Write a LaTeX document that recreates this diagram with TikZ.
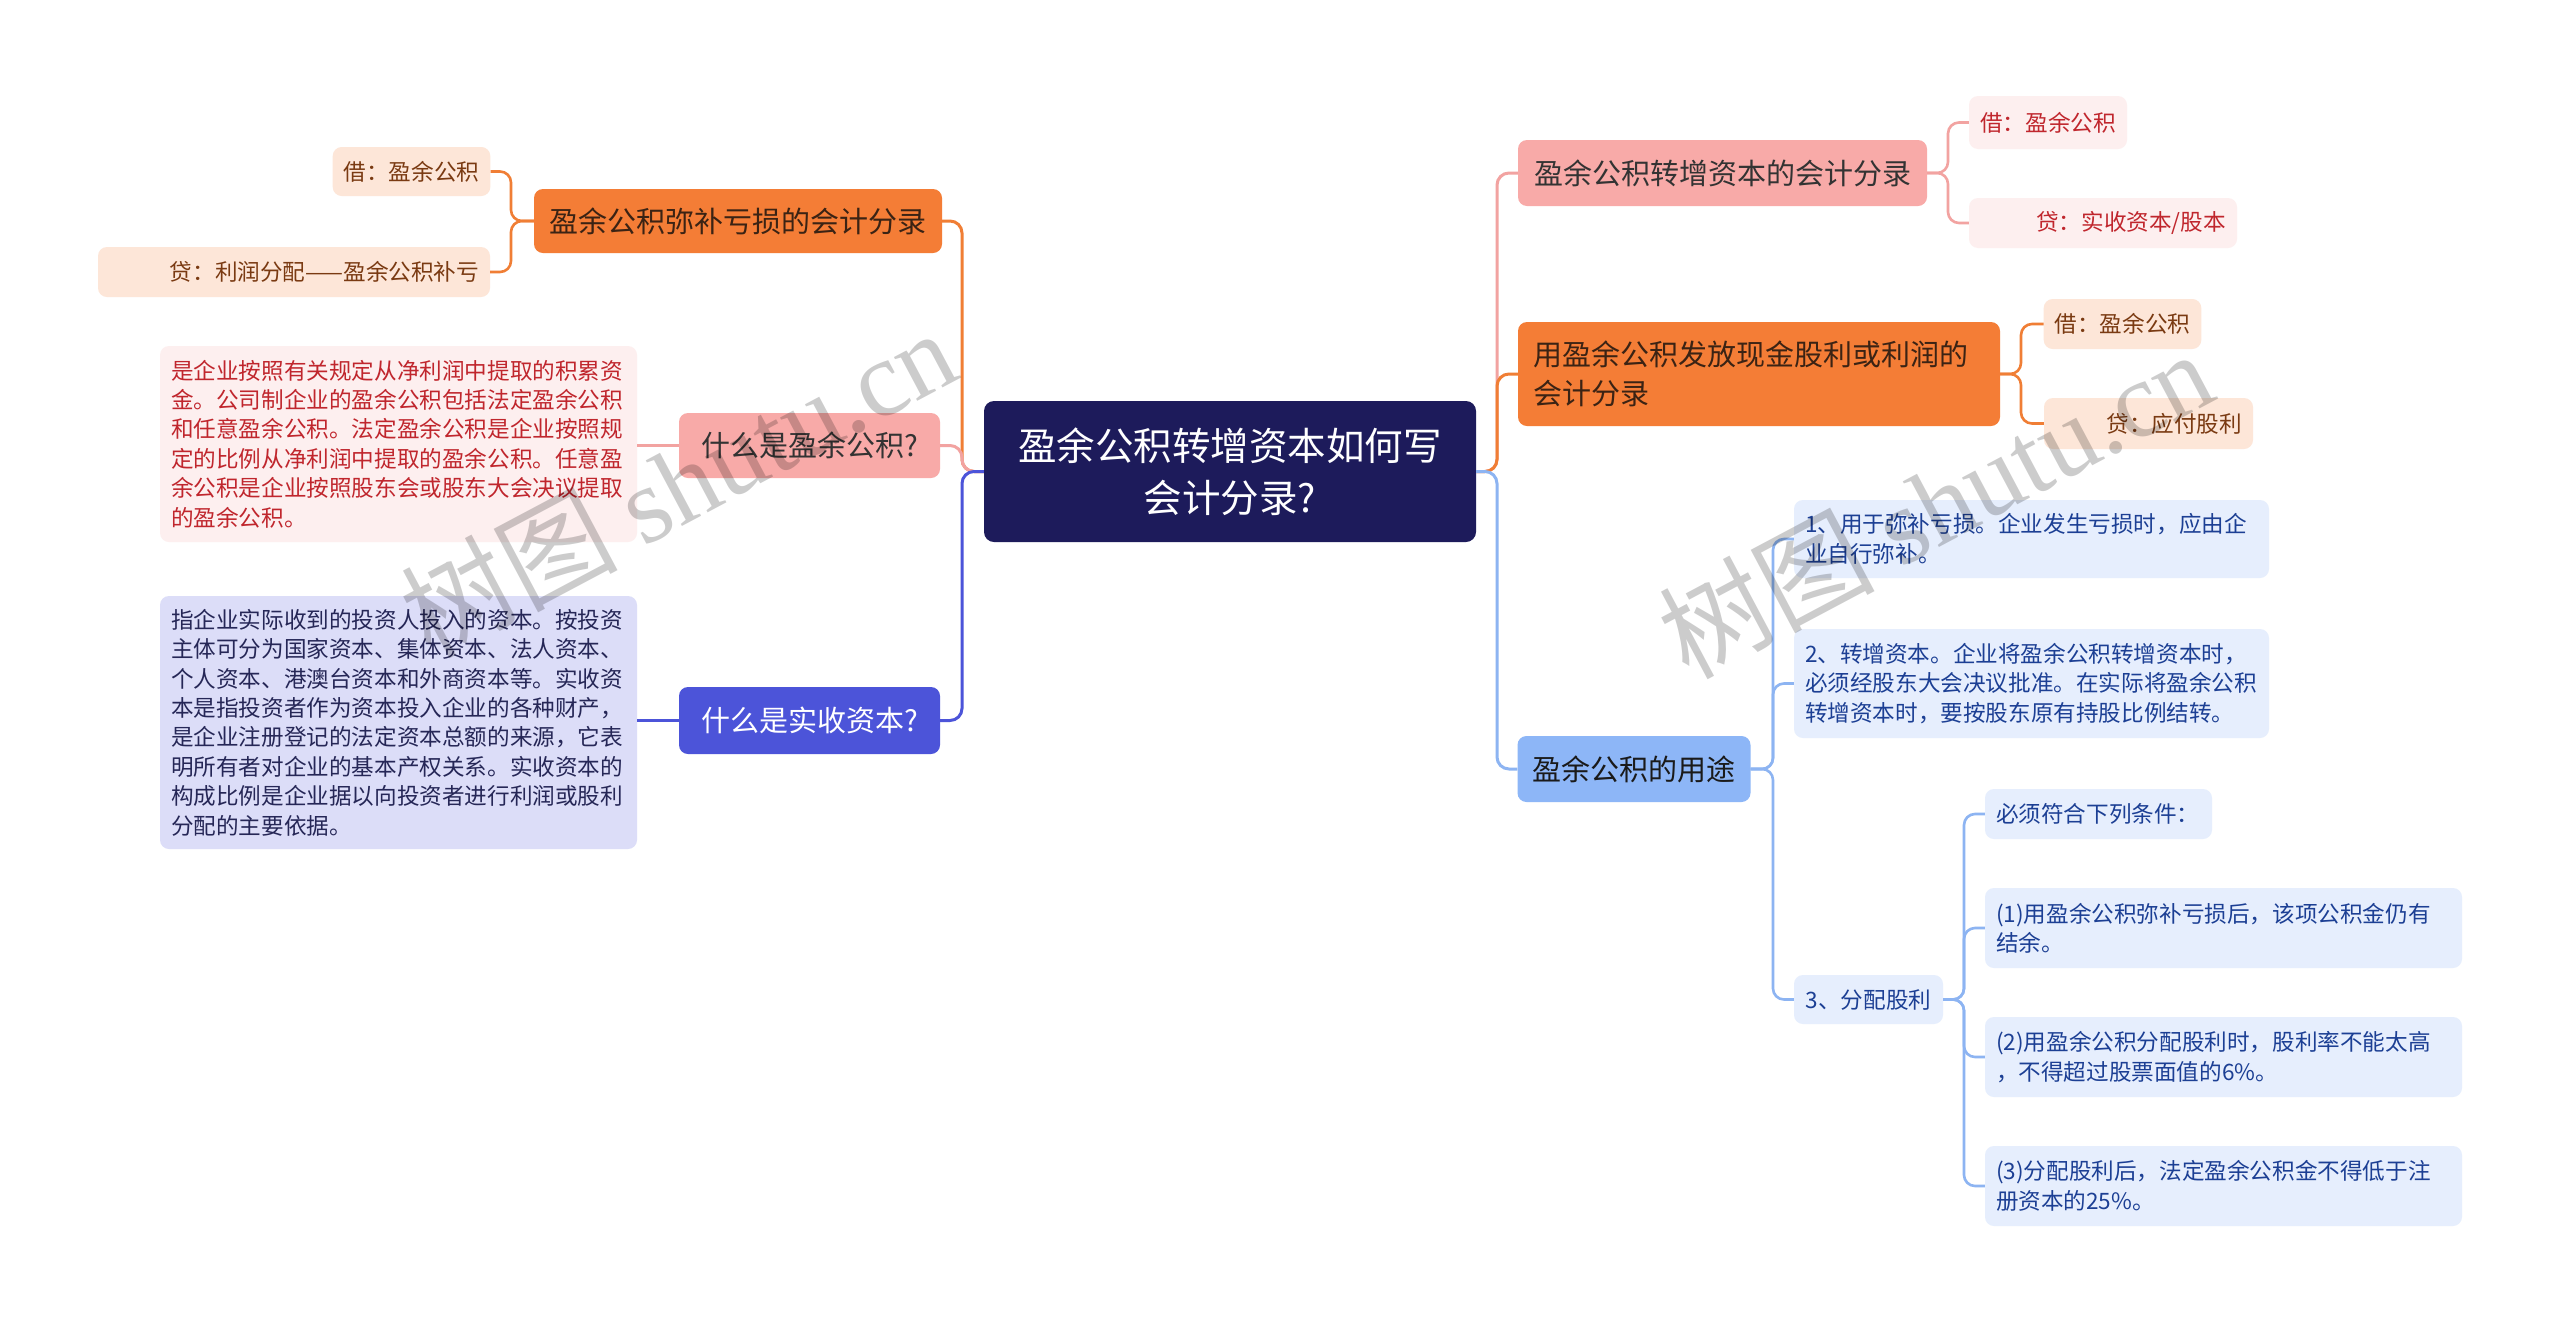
\documentclass[tikz,border=0pt]{standalone}
\usepackage{fontspec}
\setmainfont{Noto Sans CJK SC}
\newfontfamily\wmfont{Liberation Serif}
\usetikzlibrary{calc}
\definecolor{navy}{HTML}{1D1B5B}
\definecolor{orangeF}{HTML}{F47D36}
\definecolor{orangeT}{HTML}{3B2314}
\definecolor{peachF}{HTML}{FDE6D8}
\definecolor{peachT}{HTML}{7A3A12}
\definecolor{pinkF}{HTML}{F8AAA8}
\definecolor{pinkT}{HTML}{333333}
\definecolor{lpinkF}{HTML}{FDEFEF}
\definecolor{lpinkT}{HTML}{C0262D}
\definecolor{blueF}{HTML}{4C54D9}
\definecolor{lavF}{HTML}{DCDDF8}
\definecolor{lavT}{HTML}{262757}
\definecolor{skyF}{HTML}{8DB6F7}
\definecolor{skyT}{HTML}{1A1A1A}
\definecolor{lskyF}{HTML}{E6EEFD}
\definecolor{lskyT}{HTML}{1C3F94}
\definecolor{cOrange}{HTML}{F07E35}
\definecolor{cPink}{HTML}{F2A3A1}
\definecolor{cBlue}{HTML}{4C54D9}
\definecolor{cSky}{HTML}{8DB4F2}
\newcommand\fsS{\fontsize{22.6}{29.4}\selectfont}
\newcommand\fsM{\fontsize{29}{39}\selectfont}
\newcommand\fsL{\fontsize{38.5}{52}\selectfont}
\begin{document}
\begin{tikzpicture}[x=1pt,y=-1pt,
  box/.style={rectangle, rounded corners=9pt, inner xsep=11pt, inner ysep=0pt, anchor=center},
  lvA/.style={box, inner xsep=15pt, font=\fsM},
  leaf/.style={box, font=\fsS},
  conn/.style={line width=3pt, rounded corners=12pt},
  subconn/.style={line width=2.6pt, rounded corners=11pt},
  wm/.style={text=black, text opacity=0.2, font=\fontsize{108}{108}\selectfont, rotate=28, inner sep=0pt}
]
\useasboundingbox (0,0) rectangle (2560,1326);
\fill[white] (0,0) rectangle (2560,1326);

% trunk coordinates
\coordinate (lt) at (962,471.5);
\coordinate (rt) at (1497,471.5);
\coordinate (l1t) at (511,221);
\coordinate (r1t) at (1948,173);
\coordinate (r2t) at (2021,374);
\coordinate (r3t) at (1773,769);
\coordinate (r3ct) at (1964,999.5);

% central
\node[box, fill=navy, text=white, rounded corners=10pt, minimum width=492pt, minimum height=141pt, font=\fsL, align=center] (C) at (1230,471.5) {盈余公积转增资本如何写\\会计分录?};

% left level 1
\node[lvA, fill=orangeF, text=orangeT, minimum width=408pt, minimum height=64pt] (L1) at (738,221) {盈余公积弥补亏损的会计分录};
\node[lvA, fill=pinkF, text=pinkT, minimum width=261pt, minimum height=65pt] (L2) at (809.5,445.5) {什么是盈余公积?};
\node[lvA, fill=blueF, text=white, minimum width=261pt, minimum height=67pt] (L3) at (809.5,720.5) {什么是实收资本?};

% left leaves
\node[leaf, fill=peachF, text=peachT, minimum width=157pt, minimum height=49pt] (L1a) at (411.5,171.5) {借：盈余公积};
\node[leaf, fill=peachF, text=peachT, minimum width=392pt, minimum height=50pt, text width=370pt, align=right] (L1b) at (294,272) {贷：利润分配——盈余公积补亏};
\node[leaf, fill=lpinkF, text=lpinkT, minimum width=477pt, minimum height=196pt, text width=455pt, align=left] (L2a) at (398.5,444) {是企业按照有关规定从净利润中提取的积累资\\金。公司制企业的盈余公积包括法定盈余公积\\和任意盈余公积。法定盈余公积是企业按照规\\定的比例从净利润中提取的盈余公积。任意盈\\余公积是企业按照股东会或股东大会决议提取\\的盈余公积。};
\node[leaf, fill=lavF, text=lavT, minimum width=477pt, minimum height=253pt, text width=455pt, align=left] (L3a) at (398.5,722.5) {指企业实际收到的投资人投入的资本。按投资\\主体可分为国家资本、集体资本、法人资本、\\个人资本、港澳台资本和外商资本等。实收资\\本是指投资者作为资本投入企业的各种财产，\\是企业注册登记的法定资本总额的来源，它表\\明所有者对企业的基本产权关系。实收资本的\\构成比例是企业据以向投资者进行利润或股利\\分配的主要依据。};

% right level 1
\node[lvA, fill=pinkF, text=pinkT, minimum width=409pt, minimum height=66pt] (R1) at (1722.5,173) {盈余公积转增资本的会计分录};
\node[lvA, fill=orangeF, text=orangeT, minimum width=482pt, minimum height=104pt, text width=452pt, align=left] (R2) at (1759,374) {用盈余公积发放现金股利或利润的\\会计分录};
\node[lvA, fill=skyF, text=skyT, minimum width=232pt, minimum height=66pt] (R3) at (1634,769) {盈余公积的用途};

% right leaves
\node[leaf, fill=lpinkF, text=lpinkT, minimum width=158pt, minimum height=53pt] (R1a) at (2048,122.5) {借：盈余公积};
\node[leaf, fill=lpinkF, text=lpinkT, minimum width=268pt, minimum height=50pt, text width=246pt, align=right] (R1b) at (2103,223) {贷：实收资本/股本};
\node[leaf, fill=peachF, text=peachT, minimum width=157pt, minimum height=50pt] (R2a) at (2122.5,324) {借：盈余公积};
\node[leaf, fill=peachF, text=peachT, minimum width=209pt, minimum height=51pt, text width=187pt, align=right] (R2b) at (2148.5,423.5) {贷：应付股利};
\node[leaf, fill=lskyF, text=lskyT, minimum width=475pt, minimum height=78pt, text width=453pt, align=left] (R3a) at (2031.5,539) {1、用于弥补亏损。企业发生亏损时，应由企\\业自行弥补。};
\node[leaf, fill=lskyF, text=lskyT, minimum width=475pt, minimum height=109pt, text width=453pt, align=left] (R3b) at (2031.5,683.5) {2、转增资本。企业将盈余公积转增资本时，\\必须经股东大会决议批准。在实际将盈余公积\\转增资本时，要按股东原有持股比例结转。};
\node[leaf, fill=lskyF, text=lskyT, minimum width=149pt, minimum height=49pt] (R3c) at (1868.5,999.5) {3、分配股利};
\node[leaf, fill=lskyF, text=lskyT, minimum width=227pt, minimum height=50pt, text width=205pt, align=left] (R3c1) at (2098.5,814) {必须符合下列条件：};
\node[leaf, fill=lskyF, text=lskyT, minimum width=477pt, minimum height=80pt, text width=455pt, align=left] (R3c2) at (2223.5,928) {(1)用盈余公积弥补亏损后，该项公积金仍有\\结余。};
\node[leaf, fill=lskyF, text=lskyT, minimum width=477pt, minimum height=80pt, text width=455pt, align=left] (R3c3) at (2223.5,1057) {(2)用盈余公积分配股利时，股利率不能太高\\，不得超过股票面值的6\%。};
\node[leaf, fill=lskyF, text=lskyT, minimum width=477pt, minimum height=80pt, text width=455pt, align=left] (R3c4) at (2223.5,1186) {(3)分配股利后，法定盈余公积金不得低于注\\册资本的25\%。};

% main connectors
\draw[conn, cOrange] (C.west) -- (lt) |- (L1.east);
\draw[conn, cPink] (C.west) -- (lt) |- (L2.east);
\draw[conn, cBlue] (C.west) -- (lt) |- (L3.east);
\draw[conn, cPink] (C.east) -- (rt) |- (R1.west);
\draw[conn, cOrange] (C.east) -- (rt) |- (R2.west);
\draw[conn, cSky] (C.east) -- (rt) |- (R3.west);

% sub connectors
\draw[subconn, cOrange] (L1.west) -- (l1t) |- (L1a.east);
\draw[subconn, cOrange] (L1.west) -- (l1t) |- (L1b.east);
\draw[subconn, cPink] (L2.west) -- (L2.west -| L2a.east);
\draw[subconn, cBlue] (L3.west) -- (L3.west -| L3a.east);
\draw[subconn, cPink] (R1.east) -- (r1t) |- (R1a.west);
\draw[subconn, cPink] (R1.east) -- (r1t) |- (R1b.west);
\draw[subconn, cOrange] (R2.east) -- (r2t) |- (R2a.west);
\draw[subconn, cOrange] (R2.east) -- (r2t) |- (R2b.west);
\draw[subconn, cSky] (R3.east) -- (r3t) |- (R3a.west);
\draw[subconn, cSky] (R3.east) -- (r3t) |- (R3b.west);
\draw[subconn, cSky] (R3.east) -- (r3t) |- (R3c.west);
\draw[subconn, cSky] (R3c.east) -- (r3ct) |- (R3c1.west);
\draw[subconn, cSky] (R3c.east) -- (r3ct) |- (R3c2.west);
\draw[subconn, cSky] (R3c.east) -- (r3ct) |- (R3c3.west);
\draw[subconn, cSky] (R3c.east) -- (r3ct) |- (R3c4.west);

% watermarks
\node[wm] (wm1) at (678,482) {树图 {\wmfont shutu.cn}};
\node[wm] (wm2) at (1935,503) {树图 {\wmfont shutu.cn}};
\end{tikzpicture}
\end{document}
